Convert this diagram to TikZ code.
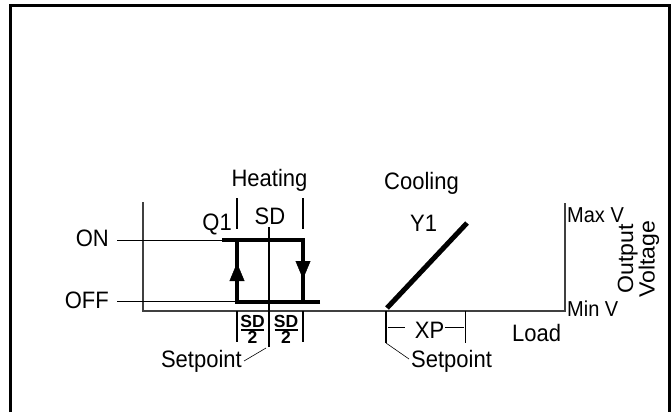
\documentclass[tikz,border=0pt]{standalone}
\usepackage{fontspec}
\setmainfont{Liberation Sans}
\usepackage{graphicx}
\usetikzlibrary{arrows.meta}
\newcommand\st[1]{\scalebox{1}[1.08]{#1}}
\begin{document}
\begin{tikzpicture}[x=1pt,y=-1pt,
  lbl/.style={inner sep=0pt, font=\fontsize{22}{22}\selectfont},
  small/.style={inner sep=0pt, font=\fontsize{20}{20}\selectfont},
  fracf/.style={inner sep=0pt, font=\fontsize{17.5}{17}\selectfont\bfseries},
  axis/.style={line width=1.1pt, black!75},
  thinl/.style={line width=1pt},
  heavy/.style={line width=4pt, line join=miter},
  tickl/.style={line width=1.8pt},
  frameline/.style={line width=3pt},
  lead/.style={line width=0.6pt},
  arr/.style={line width=0.4pt, -{Triangle[width=15pt,length=18pt]}}]
\useasboundingbox (0,0) rectangle (671,412);
% frame
\draw[frameline] (10.5,412) -- (10.5,5.5) -- (669,5.5) -- (669,412);
% axes
\coordinate (LT) at (143,202);
\coordinate (LB) at (143,311);
\coordinate (RB) at (565,311);
\coordinate (RT) at (565,203);
\draw[axis] (LT) -- (LB) -- (RB) -- (RT);
% ON / OFF
\node[lbl, anchor=base east] (on) at (109,246) {\st{ON}};
\node[lbl, anchor=base east] (off) at (109,308) {\st{OFF}};
\coordinate (onA) at (117,240);
\coordinate (onB) at (222,240);
\coordinate (offA) at (117,301.5);
\coordinate (offB) at (237,301.5);
\draw[thinl] (onA) -- (onB);
\draw[thinl] (offA) -- (offB);
% hysteresis loop
\coordinate (h1) at (222,240);
\coordinate (h2) at (303,240);
\coordinate (h3) at (303,301.5);
\coordinate (h4) at (320,301.5);
\coordinate (h5) at (237,301.5);
\coordinate (h6) at (237,240);
\draw[heavy] (h1) -- (h2) -- (h3);
\draw[heavy] (h4) -- (h5) -- (h6);
\coordinate (ua) at (237,285);
\coordinate (ub) at (237,263);
\coordinate (da) at (303,256);
\coordinate (db) at (303,279);
\draw[arr] (ua) -- (ub);
\draw[arr] (da) -- (db);
% setpoint line and ticks
\coordinate (sp1) at (269,227);
\coordinate (sp2) at (269,347);
\draw[tickl] (sp1) -- (sp2);
\coordinate (t1a) at (237,198); \coordinate (t1b) at (237,229);
\coordinate (t2a) at (303,198); \coordinate (t2b) at (303,229);
\coordinate (t3a) at (237,311); \coordinate (t3b) at (237,342);
\coordinate (t4a) at (303,311); \coordinate (t4b) at (303,342);
\draw[tickl] (t1a) -- (t1b);
\draw[tickl] (t2a) -- (t2b);
\draw[tickl] (t3a) -- (t3b);
\draw[tickl] (t4a) -- (t4b);
% labels heating
\node[lbl, anchor=base] (heat) at (269.5,186) {\st{Heating}};
\node[lbl, anchor=base] (sd) at (270,224) {\st{SD}};
\node[lbl, anchor=base east] (q1) at (232,230) {\st{Q1}};
% fractions
\node[fracf, anchor=base] (sdl) at (252.5,327) {SD};
\node[fracf, anchor=base] (twol) at (252.5,343) {2};
\node[fracf, anchor=base] (sdr) at (286,327) {SD};
\node[fracf, anchor=base] (twor) at (286,343) {2};
\coordinate (fl1) at (241,330); \coordinate (fl2) at (264,330);
\coordinate (fr1) at (274.5,330); \coordinate (fr2) at (297.5,330);
\draw[line width=1.4pt] (fl1) -- (fl2);
\draw[line width=1.4pt] (fr1) -- (fr2);
% setpoint left
\node[lbl, anchor=base east] (spl) at (242,367) {\st{Setpoint}};
\coordinate (ll1) at (244,361);
\coordinate (ll2) at (266,348);
\draw[lead] (ll1) -- (ll2);
% cooling
\node[lbl, anchor=base west] (cool) at (384,189) {\st{Cooling}};
\node[lbl, anchor=base west] (y1) at (410,231) {\st{Y1}};
\coordinate (d1) at (387,308);
\coordinate (d2) at (467,223);
\draw[line width=5pt] (d1) -- (d2);
\coordinate (c1a) at (386,311); \coordinate (c1b) at (386,343);
\coordinate (c2a) at (465.5,311); \coordinate (c2b) at (465.5,343);
\draw[tickl] (c1a) -- (c1b);
\draw[tickl] (c2a) -- (c2b);
\node[lbl, anchor=base] (xp) at (429.5,338) {\st{XP}};
\coordinate (x1) at (388,327); \coordinate (x2) at (405,327);
\coordinate (x3) at (445,327); \coordinate (x4) at (464,327);
\draw[thinl] (x1) -- (x2);
\draw[thinl] (x3) -- (x4);
\node[lbl, anchor=base west] (load) at (512,341) {\st{Load}};
\coordinate (lr1) at (386,343);
\coordinate (lr2) at (409,359);
\draw[lead] (lr1) -- (lr2);
\node[lbl, anchor=base west] (spr) at (411,367) {\st{Setpoint}};
% right axis labels
\node[small, anchor=base west] (maxv) at (567,222) {\st{Max V}};
\node[small, anchor=base west] (minv) at (567,316) {\st{Min V}};
\node[lbl, rotate=90, align=center, font=\fontsize{22}{21.5}\selectfont] (ov) at (638.5,259) {\scalebox{1.05}[1]{Output}\\\scalebox{1.05}[1]{Voltage}};
\end{tikzpicture}
\end{document}
